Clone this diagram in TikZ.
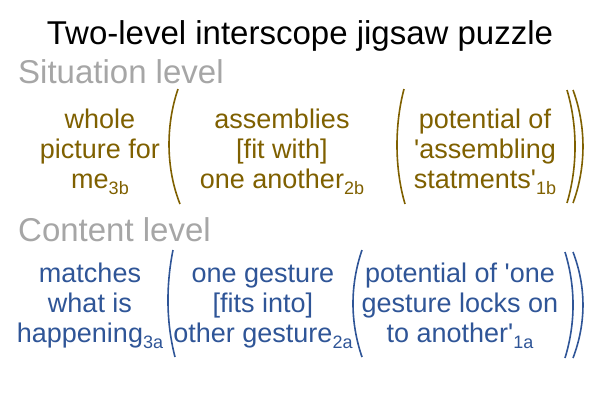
\documentclass[tikz,border=0pt]{standalone}
\usepackage{fontspec}
\setmainfont{Liberation Sans}[Ligatures=TeXOff]
\definecolor{brn}{HTML}{7F6000}
\definecolor{blu}{HTML}{2F5597}
\definecolor{gry}{HTML}{A6A6A6}
\newcommand{\lvsub}[1]{\raisebox{-6pt}{\fontsize{18}{18}\selectfont #1}}
\begin{document}
\begin{tikzpicture}[x=1pt,y=-1pt,
  titlestyle/.style={font=\fontsize{33}{36}\selectfont, inner sep=0pt, anchor=base},
  levelstyle/.style={font=\fontsize{33}{36}\selectfont, text=gry, inner sep=0pt, anchor=base west},
  body/.style={font=\fontsize{27}{30}\selectfont, align=center, inner sep=0pt, anchor=base},
  sit/.style={body, text=brn},
  con/.style={body, text=blu},
  parenb/.style={line width=1.6pt, draw=brn},
  parenc/.style={line width=1.6pt, draw=blu},
]
\useasboundingbox (0,0) rectangle (600,400);
\node[titlestyle] (t) at (300,44) {Two-level interscope jigsaw puzzle};
\node[levelstyle] (sl) at (18,83) {Situation level};
\node[levelstyle] (cl) at (18,241) {Content level};
% situation row (anchor = baseline of last line)
\node[sit] (s3) at (100,188) {whole\\picture for\\me\lvsub{3b}};
\node[sit] (s2) at (282,188) {assemblies\\{}[fit with]\\one another\lvsub{2b}};
\node[sit] (s1) at (485,188) {potential of\\'assembling\\statments'\lvsub{1b}};
\draw[parenb] (178,89) .. controls (165.7,125) and (165.7,168) .. (180,204);
\draw[parenb] (404,89) .. controls (394.5,125) and (394.5,168) .. (405,204);
\draw[parenb] (567,90) .. controls (577.7,126) and (577.7,167) .. (567,203);
\draw[parenb] (573,90) .. controls (586.3,126) and (586.3,167) .. (573,203);
% content row
\node[con] (c3) at (90,342) {matches\\what is\\happening\lvsub{3a}};
\node[con] (c2) at (263,342) {one gesture\\{}[fits into]\\other gesture\lvsub{2a}};
\node[con] (c1) at (460,342) {potential of 'one\\gesture locks on\\to another'\lvsub{1a}};
\draw[parenc] (173,250) .. controls (166,285) and (166,322) .. (175,357);
\draw[parenc] (362,250) .. controls (350,285) and (350,322) .. (362,357);
\draw[parenc] (565,252) .. controls (575.7,287) and (575.7,323) .. (565,358);
\draw[parenc] (573,252) .. controls (586.3,287) and (586.3,323) .. (573,358);
\end{tikzpicture}
\end{document}
